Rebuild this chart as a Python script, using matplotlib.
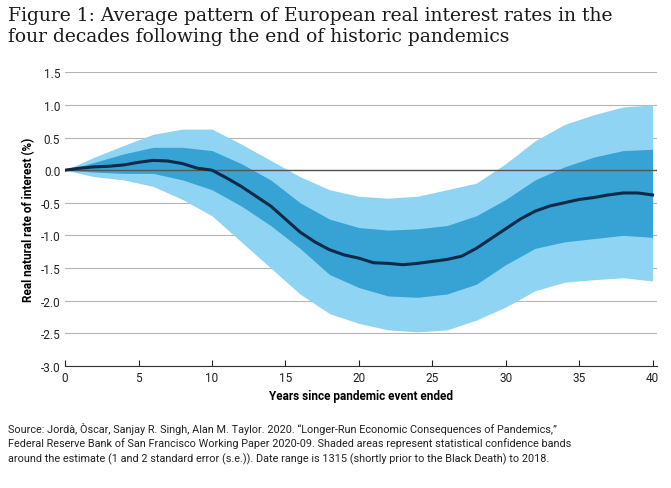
import numpy as np
import matplotlib.pyplot as plt

plt.rcParams['font.family'] = ['Roboto', 'DejaVu Sans']

years = np.arange(0, 41)
central = [0, 0.03, 0.05, 0.06, 0.08, 0.12, 0.15, 0.14, 0.1, 0.03, 0.0, -0.12, -0.25, -0.4,
           -0.55, -0.75, -0.95, -1.1, -1.22, -1.3, -1.35, -1.42, -1.43, -1.45, -1.43, -1.4,
           -1.37, -1.32, -1.2, -1.05, -0.9, -0.75, -0.63, -0.55, -0.5, -0.45, -0.42, -0.38,
           -0.35, -0.35, -0.38]

band_years = np.arange(0, 41, 2)
se1_hi = [0, 0.12, 0.25, 0.35, 0.35, 0.3, 0.1, -0.15, -0.5, -0.75, -0.88, -0.92, -0.9,
          -0.85, -0.7, -0.45, -0.15, 0.05, 0.2, 0.3, 0.32]
se1_lo = [0, -0.03, -0.05, -0.05, -0.15, -0.3, -0.55, -0.85, -1.2, -1.6, -1.8, -1.93,
          -1.95, -1.9, -1.75, -1.45, -1.2, -1.1, -1.05, -1.0, -1.03]
se2_hi = [0, 0.2, 0.38, 0.55, 0.63, 0.63, 0.4, 0.15, -0.1, -0.3, -0.4, -0.43, -0.4, -0.3,
          -0.2, 0.1, 0.45, 0.7, 0.85, 0.97, 1.0]
se2_lo = [0, -0.1, -0.15, -0.25, -0.45, -0.7, -1.1, -1.5, -1.9, -2.2, -2.35, -2.45, -2.48,
          -2.45, -2.3, -2.1, -1.85, -1.72, -1.68, -1.65, -1.7]

fig = plt.figure(figsize=(6.71, 4.89), dpi=100)
ax = fig.add_axes([0.097, 0.25, 0.882, 0.6])

ax.fill_between(band_years, se2_lo, se2_hi, color="#8fd4f2", lw=0)
ax.fill_between(band_years, se1_lo, se1_hi, color="#36a3d4", lw=0)
for v in np.arange(-3.0, 1.51, 0.5):
    ax.axhline(v, color="#b5b5b5", lw=0.8, zorder=0)
ax.axhline(0, color="#555555", lw=1.0, zorder=1)
ax.plot(years, central, color="#0d2a48", lw=2.2, zorder=3)

ax.set_xlim(0, 40.3)
ax.set_ylim(-3.0, 1.5)
ax.set_yticks(np.arange(-3.0, 1.51, 0.5))
ax.set_yticklabels([f"{v:.1f}" for v in np.arange(-3.0, 1.51, 0.5)])
ax.set_xticks(range(0, 41, 5))
ax.tick_params(labelsize=8.5, length=0, colors="#222222")
for s in ["top", "right", "left"]:
    ax.spines[s].set_visible(False)
ax.spines["bottom"].set_color("#333333")
ax.tick_params(axis="x", length=4, direction="in")
ax.set_xlabel("Years since pandemic event ended", fontsize=8.5, fontweight="bold")
ax.set_ylabel("Real natural rate of interest (%)", fontsize=8.5, fontweight="bold")

fig.text(0.012, 0.985, "Figure 1: Average pattern of European real interest rates in the\n"
         "four decades following the end of historic pandemics",
         fontsize=13.5, family="DejaVu Serif", color="#1a1a1a", va="top", linespacing=1.2)
fig.text(0.012, 0.135,
         "Source: Jordà, Òscar, Sanjay R. Singh, Alan M. Taylor. 2020. \u201cLonger-Run Economic Consequences of Pandemics,\u201d\n"
         "Federal Reserve Bank of San Francisco Working Paper 2020-09. Shaded areas represent statistical confidence bands\n"
         "around the estimate (1 and 2 standard error (s.e.)). Date range is 1315 (shortly prior to the Black Death) to 2018.",
         fontsize=7.8, color="#222222", va="top", linespacing=1.4)

fig.savefig("out.png", dpi=100)
